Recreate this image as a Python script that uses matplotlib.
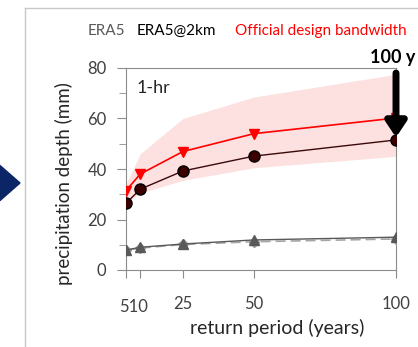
import matplotlib
matplotlib.use("Agg")
import matplotlib.pyplot as plt
from matplotlib.patches import Polygon
from matplotlib.lines import Line2D

plt.rcParams['font.family'] = ['Lato', 'DejaVu Sans']

# return periods (years)
periods = [5, 10, 25, 50, 100]
# official design bandwidth (mm)
band_low = [26.5, 30.5, 35.5, 40.5, 45.0]
band_high = [34.0, 46.0, 60.0, 68.5, 77.5]
# series (mm)
official = [31.4, 38.0, 46.9, 54.0, 60.2]
era5_2km_design = [26.4, 32.0, 39.2, 45.1, 51.5]
era5_2km = [7.9, 9.0, 10.3, 11.9, 13.0]
era5 = [7.8, 8.7, 10.1, 11.2, 12.3]
xtick_labels = ['5', '10', '25', '50', '100']

W, H = 418, 347
fig = plt.figure(figsize=(W / 100, H / 100), dpi=100)
ax = fig.add_axes([126 / W, 1 - 270 / H, 270 / W, 202 / H])

ax.fill_between(periods, band_low, band_high, color='#fde0e0', lw=0, zorder=1)
ax.plot(periods, official, color='#ff0000', lw=1.2, marker='v', ms=7, zorder=4)
ax.plot(periods, era5_2km_design, color='#3a0a0a', lw=1.0, marker='o', ms=8,
        mfc='#3a0000', mec='#000000', zorder=4)
ax.plot(periods, era5, color='#a6a6a6', lw=1.2, ls=(0, (6, 3)), marker='D', ms=5,
        mfc='#9a9a9a', mec='#9a9a9a', zorder=3)
ax.plot(periods, era5_2km, color='#595959', lw=1.0, marker='^', ms=6.5,
        mfc='#595959', mec='#595959', zorder=3)

ax.set_xlim(5, 100)
ax.set_ylim(0, 80)
ax.set_xticks(periods)
# 5 and 10 sit so close that their labels run together as "510"
ax.set_xticklabels(['', '', '25', '50', '100'])
for s in ax.spines.values():
    s.set_color('#8c8c8c')
ax.tick_params(which='both', direction='out', color='#8c8c8c', labelcolor='#404040',
               labelsize=12)
ax.tick_params(axis='x', length=6, pad=12.5)
ax.tick_params(axis='y', length=6.5, pad=7.5)
ax.tick_params(axis='y', which='minor', length=5)
ax.set_yticks([0, 20, 40, 60, 80])
ax.set_yticks([10, 30, 50, 70], minor=True)
ax.text(7.6, -29 / 202, '510', ha='center', va='top', fontsize=12, color='#404040',
        transform=ax.get_xaxis_transform())
ax.set_xlabel('return period (years)', fontsize=14, color='#262626')
ax.xaxis.set_label_coords(0.56, -49 / 202)
ax.set_ylabel('precipitation depth (mm)', fontsize=13.5, color='#262626')
ax.yaxis.set_label_coords(-53 / 270, 0.428)

ax.text(0.04, 0.9, '1-hr', transform=ax.transAxes, fontsize=13, color='#262626',
        va='center')

# arrow marking 100 y
ax.annotate('', xy=(100, 52.5), xytext=(100, 78),
            arrowprops=dict(arrowstyle='-|>,head_width=0.6,head_length=0.9',
                            lw=5, color='black', shrinkA=0, shrinkB=0),
            annotation_clip=False, zorder=6)
fig.text(370 / W, 1 - 58 / H, '100 y', fontsize=13, fontweight='bold', va='center',
         ha='left')

# legend-like header
fig.text(88 / W, 1 - 31 / H, 'ERA5', color='#595959', fontsize=11, va='center')
fig.text(137 / W, 1 - 31 / H, 'ERA5@2km', color='#000000', fontsize=11, va='center')
fig.text(235 / W, 1 - 31 / H, 'Official design bandwidth', color='#ff0000',
         fontsize=11, va='center')

# surrounding frame pieces and blue diamond
fig.add_artist(Line2D([25 / W, 25 / W], [0, 1 - 8 / H], color='#c8c8c8', lw=1))
fig.add_artist(Line2D([25 / W, 1], [1 - 8 / H, 1 - 8 / H], color='#c8c8c8', lw=1))
fig.add_artist(Polygon([(-12 / W, 1 - 155 / H), (20 / W, 1 - 183 / H),
                        (-12 / W, 1 - 211 / H)], closed=True,
                       transform=fig.transFigure, color='#0b2566'))

fig.savefig('out.png', dpi=100)
